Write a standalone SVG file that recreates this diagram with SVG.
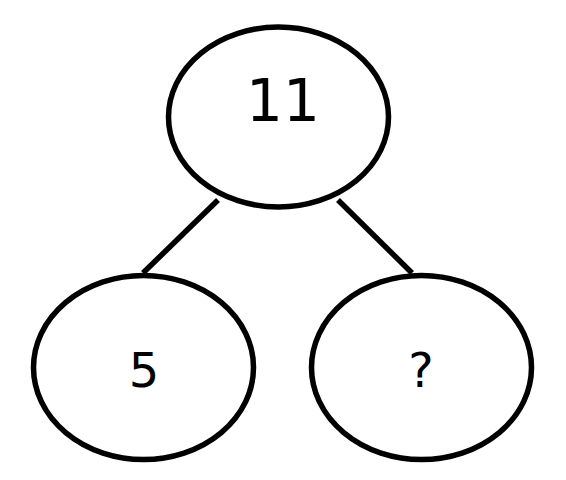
<svg xmlns="http://www.w3.org/2000/svg" width="566" height="480" viewBox="0 0 566 480">
<style>
.n{fill:#fff;stroke:#000;stroke-width:5.5}
.c{stroke:#000;stroke-width:5.5;fill:none}
text{font-family:"DejaVu Sans","Liberation Sans",sans-serif;fill:#000;text-anchor:middle}
</style>
<rect width="566" height="480" fill="#fff"/>
<g id="connectors">
<line class="c" x1="218" y1="200" x2="143" y2="273"/>
<line class="c" x1="338" y1="200" x2="412" y2="273"/>
</g>
<g id="node-top">
<ellipse class="n" cx="278.5" cy="117" rx="110" ry="90"/>
<text x="283" y="121" font-size="58">11</text>
</g>
<g id="node-left">
<ellipse class="n" cx="143.5" cy="367.5" rx="110" ry="92"/>
<text x="144" y="387" font-size="48">5</text>
</g>
<g id="node-right">
<ellipse class="n" cx="421.5" cy="367.5" rx="110" ry="92"/>
<text x="421" y="387" font-size="48">?</text>
</g>
</svg>
